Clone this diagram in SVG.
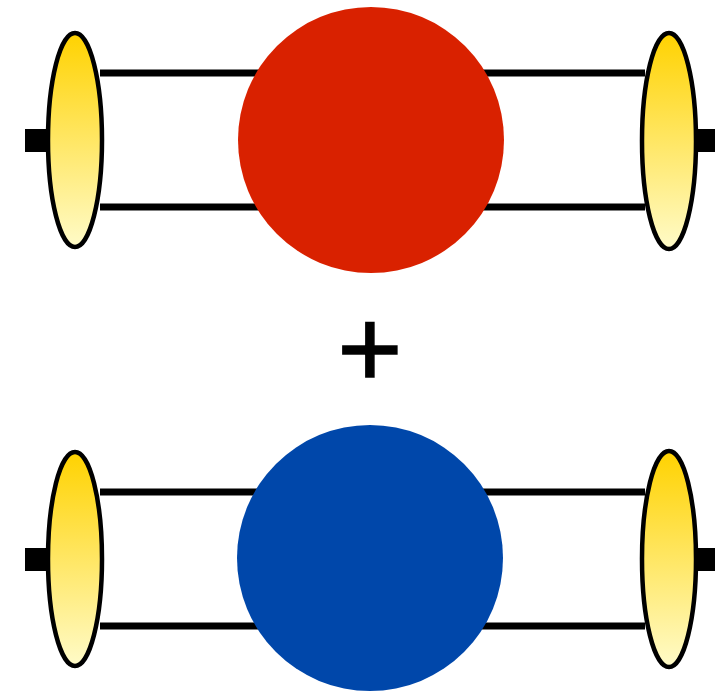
<svg xmlns="http://www.w3.org/2000/svg" width="715" height="691" viewBox="0 0 715 691">
<defs>
<linearGradient id="gold" x1="0" y1="0" x2="0" y2="1">
<stop offset="0" stop-color="#FFD200"/>
<stop offset="1" stop-color="#FFFBC8"/>
</linearGradient>
<style>
.line{stroke:#000;stroke-width:7;fill:none}
.stub{fill:#000}
.blob{fill:url(#gold);stroke:#000;stroke-width:4.5}
</style>
</defs>
<g id="connectors">
<line class="line" x1="100" y1="73" x2="645" y2="73"/>
<line class="line" x1="100" y1="207" x2="645" y2="207"/>
<line class="line" x1="100" y1="492" x2="645" y2="492"/>
<line class="line" x1="100" y1="626" x2="645" y2="626"/>
<rect class="stub" x="25" y="129" width="24" height="23"/>
<rect class="stub" x="695" y="129" width="20" height="23"/>
<rect class="stub" x="25" y="548" width="24" height="23"/>
<rect class="stub" x="695" y="548" width="20" height="23"/>
</g>
<g id="red-circle"><circle cx="371" cy="140" r="133" fill="#D92100"/></g>
<g id="blue-circle"><circle cx="370" cy="558" r="133" fill="#0047AA"/></g>
<g id="left-top"><ellipse class="blob" cx="75" cy="140" rx="27" ry="107"/></g>
<g id="right-top"><ellipse class="blob" cx="669" cy="141" rx="27" ry="108"/></g>
<g id="left-bottom"><ellipse class="blob" cx="75" cy="559" rx="27" ry="107"/></g>
<g id="right-bottom"><ellipse class="blob" cx="669" cy="559" rx="27" ry="108"/></g>
<g id="plus"><text x="370" y="387" text-anchor="middle" font-family="Liberation Sans, Arial, sans-serif" font-size="111" stroke="#000" stroke-width="1.6">+</text></g>
</svg>
